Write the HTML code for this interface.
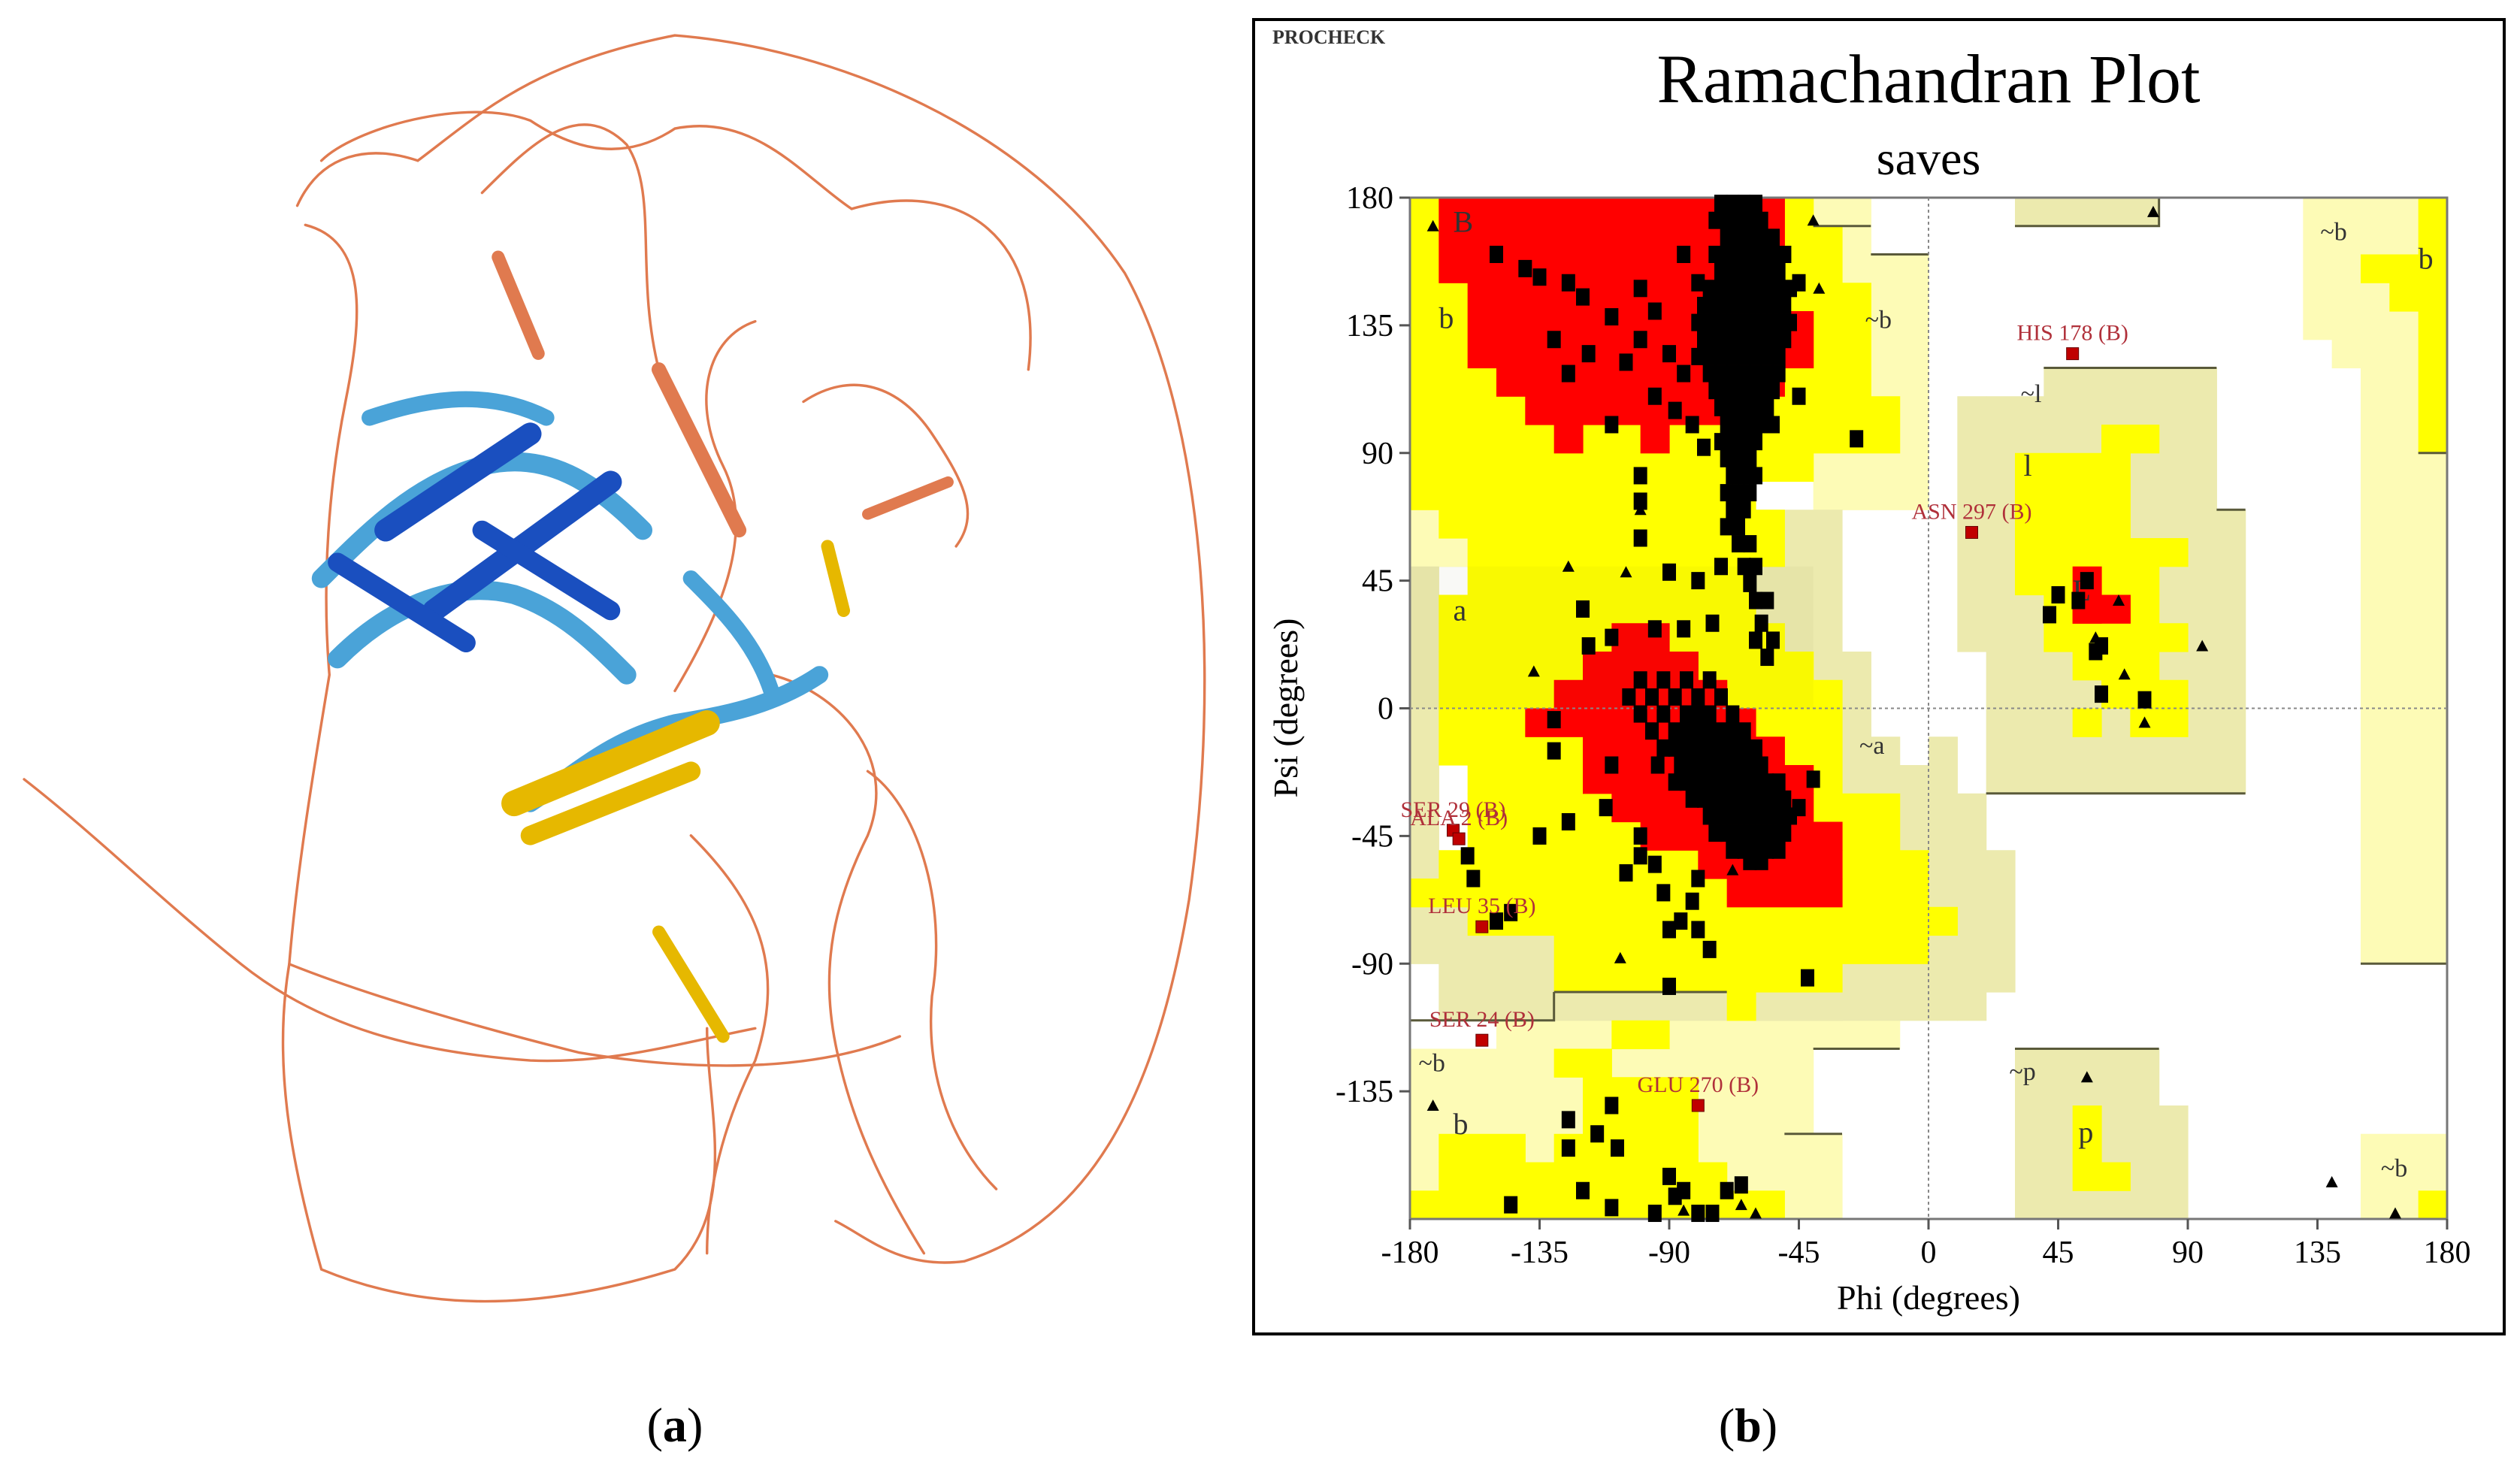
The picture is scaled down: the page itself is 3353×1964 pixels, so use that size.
<!DOCTYPE html>
<html><head><meta charset="utf-8"><style>
html,body{margin:0;padding:0;background:#fff;}
svg{display:block;}
text{font-family:"Liberation Serif",serif;}
</style></head><body>
<svg id="root" width="3353" height="1964" viewBox="0 0 3353 1964" xmlns="http://www.w3.org/2000/svg">
<g id="panelA" transform="scale(2.138)">
 <g fill="none" stroke="#e07a4f" stroke-width="1.6" stroke-linecap="round">
  <path d="M185,128 C200,95 230,90 260,100 C300,70 330,40 420,22 C520,30 640,80 700,170 C750,260 760,420 740,560 C720,680 680,760 600,785 C560,790 540,770 520,760"/>
  <path d="M200,100 C220,80 290,60 330,75 C360,95 390,100 420,80 C470,70 500,110 530,130 C600,110 650,150 640,230"/>
  <path d="M15,485 C60,520 100,560 150,600 C200,640 260,655 330,660 C380,662 420,650 470,640"/>
  <path d="M190,140 C230,150 225,200 215,250 C205,300 200,360 205,420 C195,480 185,540 180,600 C170,660 180,720 200,790 C260,815 330,818 420,790 C460,750 440,690 440,640"/>
  <path d="M300,120 C330,90 360,60 390,90 C410,120 395,170 410,230"/>
  <path d="M500,250 C530,230 560,240 580,270 C600,300 610,320 595,340"/>
  <path d="M480,420 C520,430 560,470 540,520 C520,560 510,600 520,650 C530,700 550,740 575,780"/>
  <path d="M180,600 C230,620 300,640 360,655 C420,665 500,670 560,645"/>
  <path d="M420,430 C450,380 470,330 450,290 C430,250 440,210 470,200"/>
  <path d="M430,520 C470,560 490,600 470,660 C450,700 440,740 440,780"/>
  <path d="M540,480 C570,500 590,560 580,620 C575,680 600,720 620,740"/>
 </g>
 <g fill="none" stroke-linecap="round">
  <path d="M200,360 C230,330 260,300 300,290 C340,280 370,300 400,330" stroke="#4aa3d8" stroke-width="12"/>
  <path d="M210,410 C240,380 280,360 320,370 C350,380 370,400 390,420" stroke="#4aa3d8" stroke-width="12"/>
  <path d="M230,260 C260,250 300,240 340,260" stroke="#4aa3d8" stroke-width="10"/>
  <path d="M240,330 L330,270" stroke="#1a4fbf" stroke-width="14"/>
  <path d="M270,380 L380,300" stroke="#1a4fbf" stroke-width="14"/>
  <path d="M210,350 L290,400" stroke="#1a4fbf" stroke-width="12"/>
  <path d="M300,330 L380,380" stroke="#1a4fbf" stroke-width="12"/>
  <path d="M330,500 C360,480 380,460 420,450 C450,445 480,440 510,420" stroke="#4aa3d8" stroke-width="11"/>
  <path d="M430,360 C450,380 470,400 480,430" stroke="#4aa3d8" stroke-width="10"/>
  <path d="M320,500 L440,450" stroke="#e6b800" stroke-width="16"/>
  <path d="M330,520 L430,480" stroke="#e6b800" stroke-width="12"/>
  <path d="M410,230 L460,330" stroke="#e07a4f" stroke-width="9"/>
  <path d="M310,160 L335,220" stroke="#e07a4f" stroke-width="8"/>
  <path d="M515,340 L525,380" stroke="#e6b800" stroke-width="8"/>
  <path d="M410,580 L450,645" stroke="#e6b800" stroke-width="8"/>
  <path d="M540,320 L590,300" stroke="#e07a4f" stroke-width="7"/>
 </g>
 <text x="420" y="897" font-size="30" text-anchor="middle">(<tspan font-weight="bold">a</tspan>)</text>
</g>

<g id="panelB">
 <rect x="1668" y="26" width="1664" height="1749" fill="#fff" stroke="#000" stroke-width="4"/>
 <text x="1693" y="58" font-size="26" font-weight="bold" fill="#333">PROCHECK</text>
 <text x="2566" y="136" font-size="92" text-anchor="middle">Ramachandran Plot</text>
 <text x="2566" y="232" font-size="64" text-anchor="middle">saves</text>
 <g id="regions"></g>
 <g id="axes"></g>
 <g id="points"></g>
 <text x="2566" y="1742" font-size="46" text-anchor="middle">Phi (degrees)</text>
 <text x="0" y="0" font-size="46" text-anchor="middle" transform="translate(1726,942) rotate(-90)">Psi (degrees)</text>
</g>
<text x="2326" y="1918" font-size="64" text-anchor="middle">(<tspan font-weight="bold">b</tspan>)</text>
</svg>
<script>
// ---- data ----
var xTicks = [-180,-135,-90,-45,0,45,90,135,180];
var yTicks = [180,135,90,45,0,-45,-90,-135];
// region rectangles: [phiStart, phiEnd, psiTop, psiBottom]
var regionsPale = [[-40,-20,180,70],[-20,0,160,70],[-180,-160,70,50],[130,140,180,130],[140,150,180,120],[150,180,180,-90],[150,180,-150,-180],[-150,-110,-110,-120],[-110,-10,-110,-120],[-180,-40,-120,-150],[-180,-30,-150,-180]];
var regionsKhaki = [[-180,-170,50,-90],[-170,-130,-70,-110],[-130,-30,-90,-110],[-60,-30,70,-110],[-30,-20,20,-110],[-20,-10,-10,-110],[-10,0,-20,-110],[0,10,-10,-110],[10,20,-30,-110],[20,30,-50,-100],[30,80,180,170],[10,20,110,20],[20,40,110,-30],[40,100,120,-30],[100,110,70,-30],[30,80,-120,-180],[80,90,-140,-180]];
var regionsAllowed = [[-180,-40,180,170],[-180,-30,170,150],[-180,-20,150,110],[-180,-10,110,90],[-180,-40,90,80],[-180,-60,80,70],[-170,-50,70,60],[-160,-50,60,50],[-160,-60,50,40],[-170,-60,40,30],[-170,-50,30,20],[-170,-40,20,10],[-170,-30,10,-20],[-160,-30,-20,-30],[-160,-10,-30,-50],[-170,0,-50,-60],[-180,0,-60,-70],[-160,10,-70,-80],[-130,0,-80,-90],[-130,-30,-90,-100],[-70,-60,-100,-110],
 [-110,-90,-110,-120],[-130,-110,-120,-130],[-120,-80,-130,-150],[-170,-140,-150,-160],[-130,-80,-150,-160],[-170,-70,-160,-170],[-180,-50,-170,-180],
 [150,170,160,150],[160,170,150,140],[170,180,180,90],[170,180,-170,-180],
 [60,80,100,90],[30,70,90,60],[30,90,60,50],[30,80,50,40],[40,80,40,20],[80,90,30,20],[50,80,20,10],[60,90,10,0],[50,60,0,-10],[70,90,0,-10],
 [50,60,-140,-170],[60,70,-160,-170]];
var regionsCore = [[-170,-50,180,150],[-160,-50,150,120],[-50,-40,140,120],[-150,-50,120,110],[-140,-60,110,100],[-130,-120,100,90],[-100,-90,100,90],
 [-110,-90,30,20],[-120,-80,20,10],[-130,-70,10,0],[-140,-60,0,-10],[-120,-50,-10,-20],[-120,-40,-20,-30],[-110,-40,-30,-40],[-100,-30,-40,-50],[-80,-30,-50,-60],[-70,-30,-60,-70],
 [50,60,50,30],[50,70,40,30]];
var regionLabels = ["B","b","~b","a","~a","~l","l","L","~p","p","~b","b","~b","~b","b"];
var regionLabelPhi = [-165,-170,-22,-165,-24,32,33,50,28,52,136,170,157,-177,-165];
var regionLabelPsi = [168,134,134,31,-16,108,82,38,-131,-153,165,155,-165,-128,-150];
// residues (squares)
var squarePhi = [-72,-68,-64,-60,-74,-70,-66,-62,-58,-70,-66,-62,-58,-54,-74,-70,-66,-62,-58,-54,-50,-72,-68,-64,-60,-56,-52,-76,-72,-68,-64,-60,-56,-52,-48,-78,-74,-70,-66,-62,-58,-54,-50,-80,-76,-72,-68,-64,-60,-56,-52,-48,-78,-74,-70,-66,-62,-58,-54,-50,-80,-76,-72,-68,-64,-60,-56,-52,-76,-72,-68,-64,-60,-56,-52,-74,-70,-66,-62,-58,-54,-72,-68,-64,-60,-56,-70,-66,-62,-58,-54,-72,-68,-64,-60,-70,-66,-62,-68,-64,-60,-70,-66,-62,-68,-64,-70,-66,-66,-62,-64,-60,-62,-60,-56,-58,-60,-54,-56,
 -150,-140,-135,-125,-120,-100,-95,-110,-118,-105,-100,-130,-125,-90,-85,-95,-88,-110,-85,-80,-82,-78,-100,-100,-100,-90,-80,-72,-75,-85,-95,-120,-25,-50,-45,-52,-45,
 -100,-92,-84,-76,-104,-96,-88,-80,-72,-100,-92,-84,-80,-76,-68,-96,-88,-84,-80,-76,-72,-68,-64,-92,-88,-84,-80,-76,-72,-68,-64,-60,-94,-86,-82,-78,-74,-70,-66,-62,-58,-88,-84,-80,-76,-72,-68,-64,-60,-56,-52,-82,-78,-74,-70,-66,-62,-58,-54,-50,-76,-72,-68,-64,-60,-56,-52,-48,-74,-70,-66,-62,-58,-54,-50,-68,-64,-60,-56,-52,-62,-58,
 -130,-130,-110,-112,-125,-135,-158,-160,-145,-150,-100,-95,-80,-82,-86,-90,-80,-76,-90,-42,-45,-40,-118,-110,-100,-105,-92,
 -110,-115,-125,-125,-108,-90,-85,-88,-70,-65,-75,-80,-95,-145,-110,-120,
 55,45,42,52,60,60,75,58];
var squarePsi = [178,178,178,178,172,172,172,172,172,166,166,166,166,166,160,160,160,160,160,160,160,154,154,154,154,154,154,148,148,148,148,148,148,148,148,142,142,142,142,142,142,142,142,136,136,136,136,136,136,136,136,136,130,130,130,130,130,130,130,130,124,124,124,124,124,124,124,124,118,118,118,118,118,118,118,112,112,112,112,112,112,106,106,106,106,106,100,100,100,100,100,94,94,94,94,88,88,88,82,82,82,76,76,76,70,70,64,64,58,58,50,50,44,38,38,30,24,24,18,
 160,155,152,150,145,148,140,138,125,122,130,130,118,125,118,110,105,100,160,150,100,92,82,73,60,48,45,50,30,28,28,35,95,160,150,130,110,
 10,10,10,10,4,4,4,4,4,-2,-2,-2,-2,-2,-2,-8,-8,-8,-8,-8,-8,-8,-8,-14,-14,-14,-14,-14,-14,-14,-14,-14,-20,-20,-20,-20,-20,-20,-20,-20,-20,-26,-26,-26,-26,-26,-26,-26,-26,-26,-26,-32,-32,-32,-32,-32,-32,-32,-32,-32,-38,-38,-38,-38,-38,-38,-38,-38,-44,-44,-44,-44,-44,-44,-44,-50,-50,-50,-50,-50,-54,-54,
 -4,-15,-20,-35,-40,-45,-60,-52,-72,-75,-52,-55,-60,-68,-75,-78,-78,-85,-98,-95,-35,-25,22,25,-45,-58,-65,
 -140,-150,-145,-155,-155,-165,-170,-172,-170,-168,-178,-178,-178,-175,-176,-170,
 45,40,33,38,22,5,3,20];
var triPhi = [-172,-40,-38,-100,-125,-105,-137,-107,-68,78,95,58,68,75,66,55,140,162,-172,-85,-60,-65];
var triPsi = [170,172,148,70,50,48,13,-88,-57,175,22,25,12,-5,38,-130,-167,-178,-140,-177,-178,-175];
var outlierNames = ["HIS 178 (B)","ASN 297 (B)","SER 29 (B)","ALA 2 (B)","LEU 35 (B)","SER 24 (B)","GLU 270 (B)"];
var outlierPhi = [50,15,-165,-163,-155,-155,-80];
var outlierPsi = [125,62,-43,-46,-77,-117,-140];

// ---- scales ----
var X0=1876, X1=3256, Y0=263, Y1=1622;
function xs(phi){return X0+(phi+180)*(X1-X0)/360;}
function ys(psi){return Y0+(180-psi)*(Y1-Y0)/360;}
var NS="http://www.w3.org/2000/svg";
function mk(tag,attrs,parent){var e=document.createElementNS(NS,tag);for(var k in attrs)e.setAttribute(k,attrs[k]);parent.appendChild(e);return e;}

var gR=document.getElementById('regions');
function drawRegions(list,color,name){
  list.forEach(function(r){
    var x=xs(r[0]), w=xs(r[1])-x, y=ys(r[2]), h=ys(r[3])-y;
    var e=mk('rect',{x:x,y:y,width:w+0.6,height:h+0.6,fill:color},gR);
    
    
  });
}
drawRegions(regionsPale,'#fdfbb6','generous-region-pale');
drawRegions(regionsKhaki,'#eceaae','generous-region');
drawRegions(regionsAllowed,'#ffff00','allowed-region');
drawRegions(regionsCore,'#ff0000','core-region');
var tint=mk('rect',{x:xs(-180),y:ys(50),width:xs(-40)-xs(-180),height:ys(0)-ys(50),fill:'rgba(90,90,20,0.04)'},gR);


function drawEdges(list){
  list.forEach(function(r){
    var p=mk('path',{d:'M'+xs(r[0])+','+ys(r[3])+' H'+xs(r[1])+' V'+ys(r[2]),fill:'none',stroke:'#5a5a3a','stroke-width':3},gR);
    
    
  });
}
drawEdges([[-180,-130,-100,-110],[-130,-70,-100,-100],[-40,-20,170,170],[-20,0,160,160],[30,80,180,170],[20,110,-30,-30],[100,110,70,70],[40,100,120,120],[30,80,-120,-120],[150,180,-90,-90],[170,180,90,90],[-40,-10,-120,-120],[-50,-30,-150,-150]]);
regionLabels.forEach(function(t,i){
  var e=mk('text',{x:xs(regionLabelPhi[i]),y:ys(regionLabelPsi[i]),'font-size':t.length>1?34:40,fill:'#333'},gR);
  e.textContent=t;
  
  
});

// ---- axes ----
var gA=document.getElementById('axes');
var fr=mk('rect',{x:X0,y:Y0,width:X1-X0,height:Y1-Y0,fill:'none',stroke:'#777','stroke-width':3},gA);


var zx=mk('line',{x1:xs(0),x2:xs(0),y1:Y0,y2:Y1,stroke:'#888','stroke-width':2,'stroke-dasharray':'4,4'},gA);


var zy=mk('line',{x1:X0,x2:X1,y1:ys(0),y2:ys(0),stroke:'#888','stroke-width':2,'stroke-dasharray':'4,4'},gA);


xTicks.forEach(function(v){
  var t=mk('line',{x1:xs(v),x2:xs(v),y1:Y1,y2:Y1+14,stroke:'#555','stroke-width':3},gA);
  
  
  var l=mk('text',{x:xs(v),y:Y1+58,'font-size':42,'text-anchor':'middle'},gA);
  l.textContent=v;
  
  
});
yTicks.forEach(function(v){
  var t=mk('line',{x1:X0-14,x2:X0,y1:ys(v),y2:ys(v),stroke:'#555','stroke-width':3},gA);
  
  
  var l=mk('text',{x:X0-22,y:ys(v)+14,'font-size':42,'text-anchor':'end'},gA);
  l.textContent=v;
  
  
});

// ---- points ----
var gP=document.getElementById('points');
var SW=18, SH=23;
squarePhi.forEach(function(p,i){
  var e=mk('rect',{x:xs(p)-SW/2,y:ys(squarePsi[i])-SH/2,width:SW,height:SH,fill:'#000'},gP);
  
  
});
triPhi.forEach(function(p,i){
  var cx=xs(p), cy=ys(triPsi[i]);
  var e=mk('polygon',{points:(cx)+','+(cy-8)+' '+(cx-8)+','+(cy+7)+' '+(cx+8)+','+(cy+7),fill:'#000'},gP);
  
  
});
outlierNames.forEach(function(n,i){
  var cx=xs(outlierPhi[i]), cy=ys(outlierPsi[i]);
  var e=mk('rect',{x:cx-8,y:cy-8,width:16,height:16,fill:'#c00000',stroke:'#600','stroke-width':1},gP);
  
  
  var t=mk('text',{x:cx,y:cy-18,'font-size':30,'text-anchor':'middle',fill:'#b0303a'},gP);
  t.textContent=n;
  
  
});
</script>
</body></html>
